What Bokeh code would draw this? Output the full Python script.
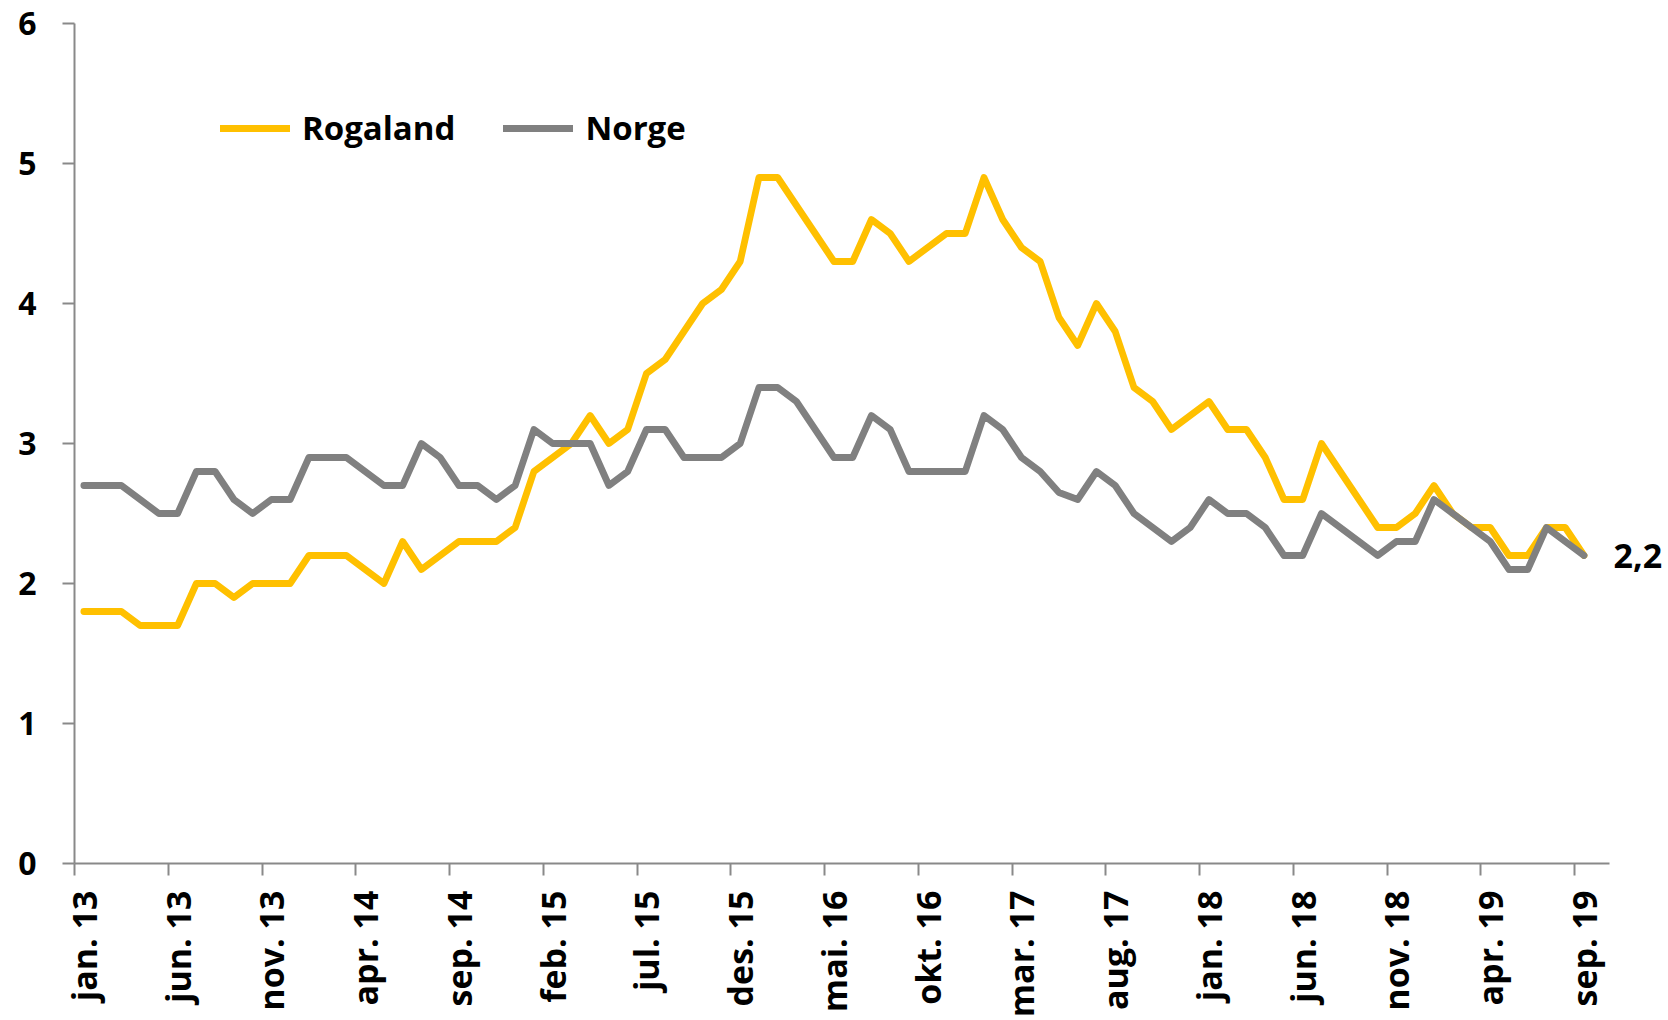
import math
from bokeh.plotting import figure
from bokeh.models import (Range1d, FixedTicker, LinearAxis, Legend, LegendItem)
from bokeh.embed import file_html
from bokeh.resources import INLINE

# ---- data (monthly, jan. 13 .. sep. 19) ----
tick_labels = ["jan. 13", "jun. 13", "nov. 13", "apr. 14", "sep. 14", "feb. 15",
               "jul. 15", "des. 15", "mai. 16", "okt. 16", "mar. 17", "aug. 17",
               "jan. 18", "jun. 18", "nov. 18", "apr. 19", "sep. 19"]

rogaland = [1.8, 1.8, 1.8, 1.7, 1.7, 1.7, 2.0, 2.0, 1.9, 2.0, 2.0, 2.0,
            2.2, 2.2, 2.2, 2.1, 2.0, 2.3, 2.1, 2.2, 2.3, 2.3, 2.3, 2.4,
            2.8, 2.9, 3.0, 3.2, 3.0, 3.1, 3.5, 3.6, 3.8, 4.0, 4.1, 4.3,
            4.9, 4.9, 4.7, 4.5, 4.3, 4.3, 4.6, 4.5, 4.3, 4.4, 4.5, 4.5,
            4.9, 4.6, 4.4, 4.3, 3.9, 3.7, 4.0, 3.8, 3.4, 3.3, 3.1, 3.2,
            3.3, 3.1, 3.1, 2.9, 2.6, 2.6, 3.0, 2.8, 2.6, 2.4, 2.4, 2.5,
            2.7, 2.5, 2.4, 2.4, 2.2, 2.2, 2.4, 2.4, 2.2]

norge = [2.7, 2.7, 2.7, 2.6, 2.5, 2.5, 2.8, 2.8, 2.6, 2.5, 2.6, 2.6,
         2.9, 2.9, 2.9, 2.8, 2.7, 2.7, 3.0, 2.9, 2.7, 2.7, 2.6, 2.7,
         3.1, 3.0, 3.0, 3.0, 2.7, 2.8, 3.1, 3.1, 2.9, 2.9, 2.9, 3.0,
         3.4, 3.4, 3.3, 3.1, 2.9, 2.9, 3.2, 3.1, 2.8, 2.8, 2.8, 2.8,
         3.2, 3.1, 2.9, 2.8, 2.65, 2.6, 2.8, 2.7, 2.5, 2.4, 2.3, 2.4,
         2.6, 2.5, 2.5, 2.4, 2.2, 2.2, 2.5, 2.4, 2.3, 2.2, 2.3, 2.3,
         2.6, 2.5, 2.4, 2.3, 2.1, 2.1, 2.4, 2.3, 2.2]

series_names = ["Rogaland", "Norge"]
y_ticks = [0, 1, 2, 3, 4, 5, 6]

months = list(range(len(rogaland)))
label_step = 5

YELLOW = "#FFC000"
GREY = "#808080"
AXIS = "#898989"
FONT = "Open Sans"

p = figure(width=1668, height=1020,
           x_range=Range1d(-0.5, 81.36), y_range=Range1d(0, 6),
           output_backend="svg", toolbar_location=None,
           min_border_left=74, min_border_right=59,
           min_border_top=23, min_border_bottom=157)
p.grid.visible = False
p.outline_line_color = None
p.background_fill_color = "white"
p.border_fill_color = "white"

r1 = p.line(months, rogaland, line_color=YELLOW, line_width=6.8,
            line_join="round", line_cap="round")
r2 = p.line(months, norge, line_color=GREY, line_width=6.8,
            line_join="round", line_cap="round")

# y axis
ya = p.yaxis[0]
ya.ticker = FixedTicker(ticks=y_ticks)
ya.axis_line_color = AXIS
ya.axis_line_width = 2
ya.major_tick_line_color = AXIS
ya.major_tick_line_width = 2
ya.major_tick_in = 0
ya.major_tick_out = 12
ya.minor_tick_line_color = None
ya.major_label_standoff = 26
ya.major_label_text_font = FONT
ya.major_label_text_font_style = "bold"
ya.major_label_text_font_size = "32px"
ya.major_label_text_color = "black"

# x axis: tick marks at category boundaries (labels not painted)
label_pos = [i * label_step for i in range(len(tick_labels))]
xa = p.xaxis[0]
xa.ticker = FixedTicker(ticks=[v - 0.5 for v in label_pos])
xa.axis_line_color = AXIS
xa.axis_line_width = 2
xa.major_tick_line_color = AXIS
xa.major_tick_line_width = 2
xa.major_tick_in = 0
xa.major_tick_out = 12
xa.minor_tick_line_color = None
xa.major_label_text_font_size = "1px"
xa.major_label_text_color = None
xa.major_label_standoff = 0

# x labels centred on the categories
xl = LinearAxis(ticker=FixedTicker(ticks=label_pos),
                major_label_overrides={v: t for v, t in zip(label_pos, tick_labels)})
xl.axis_line_color = None
xl.major_tick_line_color = None
xl.minor_tick_line_color = None
xl.major_tick_in = 0
xl.major_tick_out = 0
xl.major_label_standoff = 15
xl.major_label_orientation = math.pi / 2
xl.major_label_text_font = FONT
xl.major_label_text_font_style = "bold"
xl.major_label_text_font_size = "34px"
xl.major_label_text_color = "black"
p.add_layout(xl, "below")

# value label for the last point, drawn by a right-hand axis
last_txt = f"{norge[-1]:.1f}".replace(".", ",")
ra = LinearAxis(ticker=FixedTicker(ticks=[norge[-1]]),
                major_label_overrides={norge[-1]: last_txt})
ra.axis_line_color = None
ra.major_tick_line_color = None
ra.minor_tick_line_color = None
ra.major_tick_in = 0
ra.major_tick_out = 0
ra.major_label_standoff = 4
ra.major_label_text_font = FONT
ra.major_label_text_font_style = "bold"
ra.major_label_text_font_size = "34px"
ra.major_label_text_color = "black"
p.add_layout(ra, "right")

legend = Legend(items=[LegendItem(label=series_names[0], renderers=[r1]),
                       LegendItem(label=series_names[1], renderers=[r2])],
                orientation="horizontal", location=(146, 713),
                glyph_width=70, glyph_height=40, label_height=40,
                label_standoff=12, spacing=48, padding=0, margin=0,
                border_line_color=None, background_fill_alpha=0,
                label_text_font=FONT, label_text_font_style="bold",
                label_text_font_size="33px", label_text_color="black")
p.add_layout(legend)

open("out.html", "w").write(file_html(p, INLINE))
